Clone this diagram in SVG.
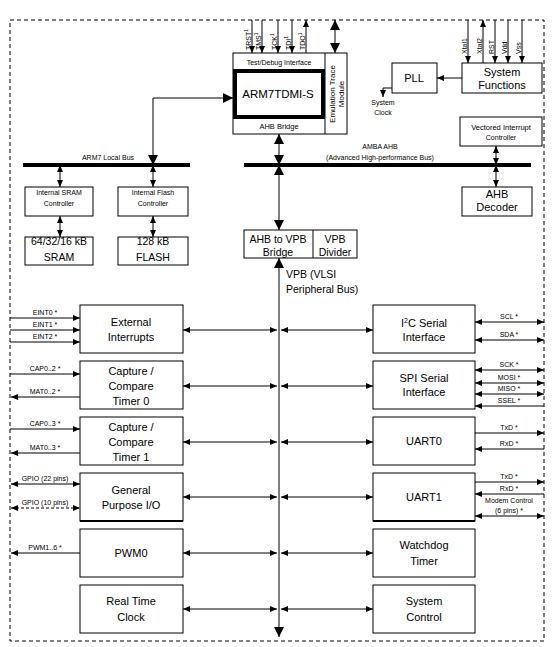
<svg xmlns="http://www.w3.org/2000/svg" width="557" height="647" viewBox="0 0 557 647">
<defs>
<marker id="ah" markerUnits="userSpaceOnUse" markerWidth="7" markerHeight="6" refX="7" refY="3" orient="auto-start-reverse"><path d="M0,0L7,3L0,6z"/></marker>
<marker id="AH" markerUnits="userSpaceOnUse" markerWidth="10" markerHeight="10" refX="10" refY="5" orient="auto-start-reverse"><path d="M0,0L10,5L0,10z"/></marker>
<style>
.b{fill:#fff;stroke:#000;stroke-width:1}
.t{font-family:"Liberation Sans",Arial,sans-serif;fill:#000;text-anchor:middle}
.s{font-size:7px}
.m{font-size:10.5px}
.l{font-size:11px}
.c{stroke:#000;stroke-width:1;fill:none}
.e{marker-end:url(#ah)}
.d{marker-start:url(#ah);marker-end:url(#ah)}
.E{marker-end:url(#AH)}
.D{marker-start:url(#AH);marker-end:url(#AH)}
.r{text-anchor:start}
</style>
</defs>
<rect x="0" y="0" width="557" height="647" fill="#fff"/>
<rect x="10" y="20" width="534" height="621" fill="none" stroke="#000" stroke-width="1" stroke-dasharray="4,3"/>

<g id="connectors">
<!-- buses -->
<line x1="23" y1="165" x2="190" y2="165" stroke="#000" stroke-width="4"/>
<line x1="244" y1="165" x2="531" y2="165" stroke="#000" stroke-width="4"/>
<path class="c D" d="M153,165V98H233" stroke-width="3.5"/>
<line class="c D" x1="279" y1="134" x2="279" y2="165" stroke-width="2.5"/>
<line class="c D" x1="279" y1="165" x2="279" y2="230" stroke-width="2.5"/>
<line class="c D" x1="279" y1="258" x2="279" y2="637" stroke-width="3"/>
<line class="c D" x1="335" y1="20" x2="335" y2="53" stroke-width="3"/>
<!-- test pins -->
<line class="c e" x1="252" y1="20" x2="252" y2="53"/>
<line class="c e" x1="262" y1="20" x2="262" y2="53"/>
<line class="c e" x1="278" y1="20" x2="278" y2="53"/>
<line class="c e" x1="292" y1="20" x2="292" y2="53"/>
<line class="c e" x1="306" y1="53" x2="306" y2="20"/>
<!-- system functions pins -->
<line class="c e" x1="468" y1="20" x2="468" y2="63"/>
<line class="c e" x1="483" y1="63" x2="483" y2="20"/>
<line class="c e" x1="495" y1="20" x2="495" y2="63"/>
<line class="c e" x1="508" y1="20" x2="508" y2="63"/>
<line class="c e" x1="522" y1="20" x2="522" y2="63"/>
<line class="c e" x1="462" y1="78" x2="437" y2="78"/>
<path class="c e" d="M392,88H383V97"/>
<!-- VIC / decoder -->
<line class="c d" x1="496" y1="146" x2="496" y2="165" stroke-width="1.5"/>
<line class="c d" x1="496" y1="165" x2="496" y2="187" stroke-width="1.5"/>
<!-- memories -->
<line class="c d" x1="60" y1="165" x2="60" y2="187" stroke-width="1.5"/>
<line class="c d" x1="60" y1="216" x2="60" y2="237" stroke-width="1.5"/>
<line class="c d" x1="153" y1="165" x2="153" y2="187" stroke-width="1.5"/>
<line class="c d" x1="153" y1="216" x2="153" y2="237" stroke-width="1.5"/>
<!-- VPB peripheral links -->
<line class="c d" x1="183" y1="330" x2="277" y2="330"/>
<line class="c d" x1="281" y1="330" x2="373" y2="330"/>
<line class="c d" x1="183" y1="386" x2="277" y2="386"/>
<line class="c d" x1="281" y1="386" x2="373" y2="386"/>
<line class="c d" x1="183" y1="442" x2="277" y2="442"/>
<line class="c d" x1="281" y1="442" x2="373" y2="442"/>
<line class="c d" x1="183" y1="497" x2="277" y2="497"/>
<line class="c d" x1="281" y1="497" x2="373" y2="497"/>
<line class="c d" x1="183" y1="553" x2="277" y2="553"/>
<line class="c d" x1="281" y1="553" x2="373" y2="553"/>
<line class="c d" x1="183" y1="609" x2="277" y2="609"/>
<line class="c d" x1="281" y1="609" x2="373" y2="609"/>
<!-- left pins -->
<line class="c e" x1="10" y1="318" x2="80" y2="318"/>
<line class="c e" x1="10" y1="330" x2="80" y2="330"/>
<line class="c e" x1="10" y1="342" x2="80" y2="342"/>
<line class="c e" x1="10" y1="374" x2="80" y2="374"/>
<line class="c e" x1="80" y1="397" x2="11" y2="397"/>
<line class="c e" x1="10" y1="429" x2="80" y2="429"/>
<line class="c e" x1="80" y1="453" x2="11" y2="453"/>
<line class="c d" x1="11" y1="484" x2="80" y2="484"/>
<line class="c d" x1="11" y1="508" x2="80" y2="508" stroke-width="1.8" stroke-dasharray="3,2"/>
<line class="c e" x1="80" y1="553" x2="11" y2="553"/>
<!-- right pins -->
<line class="c d" x1="475" y1="322" x2="544" y2="322"/>
<line class="c d" x1="475" y1="340" x2="544" y2="340"/>
<line class="c d" x1="475" y1="370" x2="544" y2="370"/>
<line class="c d" x1="475" y1="383" x2="544" y2="383"/>
<line class="c d" x1="475" y1="394" x2="544" y2="394"/>
<line class="c e" x1="544" y1="406" x2="475" y2="406"/>
<line class="c e" x1="475" y1="433" x2="544" y2="433"/>
<line class="c e" x1="544" y1="449" x2="475" y2="449" stroke-width="1.8"/>
<line class="c e" x1="475" y1="482" x2="544" y2="482"/>
<line class="c e" x1="544" y1="494" x2="475" y2="494"/>
<line class="c d" x1="475" y1="516" x2="544" y2="516"/>
</g>

<!-- bus labels -->
<g id="bus-labels">
<text class="t s" x="108" y="160">ARM7 Local Bus</text>
<text class="t s" x="380" y="149">AMBA AHB</text>
<text class="t s" x="380" y="160">(Advanced High-performance Bus)</text>
<text class="t m r" x="286" y="278">VPB (VLSI</text>
<text class="t m r" x="286" y="293">Peripheral Bus)</text>
<text class="t s" x="383" y="105">System</text>
<text class="t s" x="383" y="115">Clock</text>
</g>

<g id="pin-labels">
<text class="t s r" transform="translate(250.5,50) rotate(-90)">TRST<tspan font-size="5" dy="-3">1</tspan></text>
<text class="t s r" transform="translate(260.5,50) rotate(-90)">TMS<tspan font-size="5" dy="-3">1</tspan></text>
<text class="t s r" transform="translate(276.5,50) rotate(-90)">TCK<tspan font-size="5" dy="-3">1</tspan></text>
<text class="t s r" transform="translate(290.5,50) rotate(-90)">TDI<tspan font-size="5" dy="-3">1</tspan></text>
<text class="t s r" transform="translate(304.5,50) rotate(-90)">TDO<tspan font-size="5" dy="-3">1</tspan></text>
<text class="t s r" transform="translate(466.5,54) rotate(-90)">Xtal1</text>
<text class="t s r" transform="translate(481.5,54) rotate(-90)">Xtal2</text>
<text class="t s r" transform="translate(493.5,54) rotate(-90)">RST</text>
<text class="t s r" transform="translate(506.5,54) rotate(-90)">Vdd</text>
<text class="t s r" transform="translate(520.5,54) rotate(-90)">Vss</text>
<text class="t s" x="45" y="315">EINT0 *</text>
<text class="t s" x="45" y="327">EINT1 *</text>
<text class="t s" x="45" y="339">EINT2 *</text>
<text class="t s" x="45" y="371">CAP0..2 *</text>
<text class="t s" x="45" y="394">MAT0..2 *</text>
<text class="t s" x="45" y="426">CAP0..3 *</text>
<text class="t s" x="45" y="450">MAT0..3 *</text>
<text class="t s" x="45" y="481">GPIO (22 pins)</text>
<text class="t s" x="45" y="505">GPIO (10 pins)</text>
<text class="t s" x="45" y="550">PWM1..6 *</text>
<text class="t s" x="509" y="319">SCL *</text>
<text class="t s" x="509" y="337">SDA *</text>
<text class="t s" x="509" y="367">SCK *</text>
<text class="t s" x="509" y="380">MOSI *</text>
<text class="t s" x="509" y="391">MISO *</text>
<text class="t s" x="509" y="403">SSEL *</text>
<text class="t s" x="509" y="430">TxD *</text>
<text class="t s" x="509" y="446">RxD *</text>
<text class="t s" x="509" y="479">TxD *</text>
<text class="t s" x="509" y="491">RxD *</text>
<text class="t s" x="509" y="503">Modem Control</text>
<text class="t s" x="509" y="513">(6 pins) *</text>
</g>

<g id="arm-core">
<rect class="b" x="233" y="53" width="114" height="81"/>
<line class="c" x1="325" y1="53" x2="325" y2="134"/>
<rect x="235" y="71" width="88" height="46" fill="#fff" stroke="#000" stroke-width="4"/>
<text class="t s" x="279" y="65">Test/Debug Interface</text>
<text class="t" x="278" y="98" font-size="11.5">ARM7TDMI-S</text>
<text class="t" x="279" y="129" font-size="7.5">AHB Bridge</text>
<text class="t" transform="translate(334.5,94) rotate(-90)" font-size="8">Emulation Trace</text>
<text class="t" transform="translate(343.5,94) rotate(-90)" font-size="8">Module</text>
</g>

<g id="pll"><rect class="b" x="392" y="63" width="45" height="30"/><text class="t l" x="414" y="82">PLL</text></g>
<g id="system-functions"><rect class="b" x="462" y="63" width="80" height="30"/><text class="t l" x="502" y="76">System</text><text class="t l" x="502" y="89">Functions</text></g>
<g id="vic"><rect class="b" x="460" y="117" width="82" height="29"/><text class="t" x="501" y="130" font-size="7.5">Vectored Interrupt</text><text class="t s" x="501" y="140">Controller</text></g>
<g id="ahb-decoder"><rect class="b" x="462" y="187" width="70" height="29"/><text class="t l" x="497" y="198">AHB</text><text class="t l" x="497" y="211">Decoder</text></g>

<g id="sram-ctrl"><rect class="b" x="25" y="187" width="68" height="29"/><text class="t s" x="59" y="195">Internal SRAM</text><text class="t s" x="59" y="206">Controller</text></g>
<g id="flash-ctrl"><rect class="b" x="118" y="187" width="70" height="29"/><text class="t s" x="153" y="195">Internal Flash</text><text class="t s" x="153" y="206">Controller</text></g>
<g id="sram"><rect class="b" x="25" y="237" width="68" height="28"/><text class="t m" x="59" y="245">64/32/16 kB</text><text class="t m" x="59" y="261">SRAM</text></g>
<g id="flash"><rect class="b" x="118" y="237" width="70" height="28"/><text class="t m" x="153" y="245">128 kB</text><text class="t m" x="153" y="261">FLASH</text></g>

<g id="ahb-vpb-bridge"><rect class="b" x="244" y="230" width="113" height="28"/><line class="c" x1="313" y1="230" x2="313" y2="258"/><text class="t m" x="278" y="243">AHB to VPB</text><text class="t m" x="278" y="256">Bridge</text><text class="t m" x="335" y="243">VPB</text><text class="t m" x="335" y="256">Divider</text></g>

<g id="external-interrupts"><rect class="b" x="80" y="305" width="103" height="48"/><text class="t l" x="131" y="326">External</text><text class="t l" x="131" y="341">Interrupts</text></g>
<g id="timer0"><rect class="b" x="80" y="361" width="103" height="48"/><text class="t l" x="131" y="375">Capture /</text><text class="t l" x="131" y="390">Compare</text><text class="t l" x="131" y="405">Timer 0</text></g>
<g id="timer1"><rect class="b" x="80" y="417" width="103" height="48"/><text class="t l" x="131" y="431">Capture /</text><text class="t l" x="131" y="446">Compare</text><text class="t l" x="131" y="461">Timer 1</text></g>
<g id="gpio"><rect class="b" x="80" y="473" width="103" height="48"/><line x1="80" y1="521" x2="183" y2="521" stroke="#000" stroke-width="2"/><text class="t l" x="131" y="494">General</text><text class="t l" x="131" y="509">Purpose I/O</text></g>
<g id="pwm0"><rect class="b" x="80" y="529" width="103" height="48"/><text class="t l" x="131" y="557">PWM0</text></g>
<g id="rtc"><rect class="b" x="80" y="585" width="103" height="48"/><text class="t l" x="131" y="605">Real Time</text><text class="t l" x="131" y="621">Clock</text></g>

<g id="i2c"><rect class="b" x="373" y="305" width="102" height="48"/><text class="t l" x="424" y="327">I<tspan font-size="7" dy="-4">2</tspan><tspan dy="4">C Serial</tspan></text><text class="t l" x="424" y="341">Interface</text></g>
<g id="spi"><rect class="b" x="373" y="361" width="102" height="48"/><text class="t l" x="424" y="382">SPI Serial</text><text class="t l" x="424" y="396">Interface</text></g>
<g id="uart0"><rect class="b" x="373" y="417" width="102" height="48"/><text class="t l" x="424" y="445">UART0</text></g>
<g id="uart1"><rect class="b" x="373" y="473" width="102" height="48"/><line x1="373" y1="521" x2="475" y2="521" stroke="#000" stroke-width="2"/><text class="t l" x="424" y="501">UART1</text></g>
<g id="watchdog"><rect class="b" x="373" y="529" width="102" height="48"/><text class="t l" x="424" y="549">Watchdog</text><text class="t l" x="424" y="565">Timer</text></g>
<g id="system-control"><rect class="b" x="373" y="585" width="102" height="48"/><text class="t l" x="424" y="605">System</text><text class="t l" x="424" y="621">Control</text></g>
</svg>
